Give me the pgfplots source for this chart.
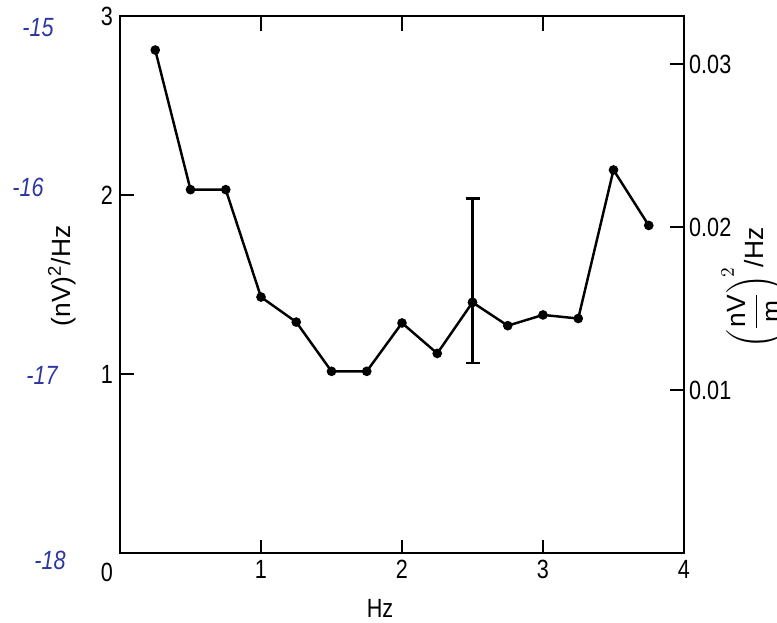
\documentclass[border=0pt]{standalone}
\usepackage{fontspec}
\setmainfont{Liberation Sans}[FakeStretch=0.82]
\newfontfamily\labelfont{Liberation Sans}
\usepackage{amsmath}
\usepackage{pgfplots}
\pgfplotsset{compat=1.18}
\definecolor{pen}{RGB}{45,55,160}
\begin{document}
\begin{tikzpicture}
\begin{axis}[
  scale only axis, width=11.28cm, height=10.74cm,
  at={(0,0)}, anchor=south west,
  axis line style={line width=1.1pt},
  major tick length=0.26cm,
  tick style={draw=black, line width=1.1pt},
  /pgf/number format/assume math mode=true,
  tick label style={font=\fontsize{15}{17}\selectfont},
  xmin=0, xmax=4, ymin=0, ymax=3,
  xtick={1,2,3,4}, ytick={1,2,3},
  ytick pos=left,
  xticklabel pos=lower,
  xticklabel style={yshift=-0.02cm},
  yticklabel style={xshift=-0.02cm},
]
\addplot[black, line width=1.4pt, mark=*, mark size=2pt, mark options={solid}] coordinates {
(0.25,2.81) (0.5,2.03) (0.75,2.03) (1.0,1.43) (1.25,1.29) (1.5,1.015)
(1.75,1.015) (2.0,1.285) (2.25,1.115) (2.5,1.40) (2.75,1.27) (3.0,1.33)
(3.25,1.31) (3.5,2.14) (3.75,1.83)
};
\addplot[black, line width=1.3pt, only marks, mark=none,
  error bars/.cd, y dir=both, y explicit,
  error bar style={black, line width=1.3pt},
  error mark options={rotate=90, mark size=0.14cm, line width=1.3pt, black}]
  coordinates {(2.5,1.40) += (0,0.58) -= (0,0.34)};
\end{axis}
\begin{axis}[
  scale only axis, width=11.28cm, height=10.74cm,
  at={(0,0)}, anchor=south west,
  axis line style={line width=1.1pt},
  major tick length=0.26cm,
  tick style={draw=black, line width=1.1pt},
  scaled y ticks=false,
  /pgf/number format/assume math mode=true,
  tick label style={font=\fontsize{15}{17}\selectfont},
  xmin=0, xmax=4, ymin=0, ymax=0.03295,
  hide x axis,
  axis y line*=right,
  ytick={0.01,0.02,0.03},
  yticklabels={0.01,0.02,0.03},
  yticklabel style={xshift=-0.02cm},
]
\end{axis}
% tick marks as thin filled bars (axis box: 11.28cm x 10.74cm)
\fill[black] (2.80cm,0cm) rectangle (2.84cm,0.27cm);
\fill[black] (5.62cm,0cm) rectangle (5.66cm,0.27cm);
\fill[black] (8.44cm,0cm) rectangle (8.48cm,0.27cm);
\fill[black] (2.80cm,10.74cm) rectangle (2.84cm,10.43cm);
\fill[black] (5.62cm,10.74cm) rectangle (5.66cm,10.43cm);
\fill[black] (8.44cm,10.74cm) rectangle (8.48cm,10.43cm);
\fill[black] (0cm,3.56cm) rectangle (0.27cm,3.60cm);
\fill[black] (0cm,7.14cm) rectangle (0.27cm,7.18cm);
\fill[black] (11.28cm,3.2395cm) rectangle (11.0cm,3.2795cm);
\fill[black] (11.28cm,6.499cm) rectangle (11.0cm,6.539cm);
\fill[black] (11.28cm,9.7585cm) rectangle (11.0cm,9.7985cm);
% labels
\node[font=\fontsize{15}{17}\selectfont] at (-0.26cm,-0.38cm) {0};
\node[font=\fontsize{15}{17}\selectfont] at (5.2cm,-1.1cm) {Hz};
\node[font=\labelfont\fontsize{15}{17}\selectfont, rotate=90, anchor=base] at (-1.0cm,5.54cm) {(nV)\textsuperscript{2}/Hz};
\node[font=\labelfont\fontsize{15}{17}\selectfont, rotate=90, anchor=base] at (12.86cm,5.3cm) {$\displaystyle\left(\frac{\text{nV}}{\text{m}}\right)^{\!2}$/Hz};
% handwritten annotations
\begin{scope}[pen, font=\itshape\fontsize{15}{17}\selectfont]
\node at (-1.64cm,10.5cm) {-15};
\node at (-1.84cm,7.32cm) {-16};
\node at (-1.56cm,3.56cm) {-17};
\node at (-1.4cm,-0.14cm) {-18};
\end{scope}
\pgfresetboundingbox
\path[use as bounding box] (-2.4cm,-1.38cm) rectangle (13.14cm,11.06cm);
\end{tikzpicture}
\end{document}
